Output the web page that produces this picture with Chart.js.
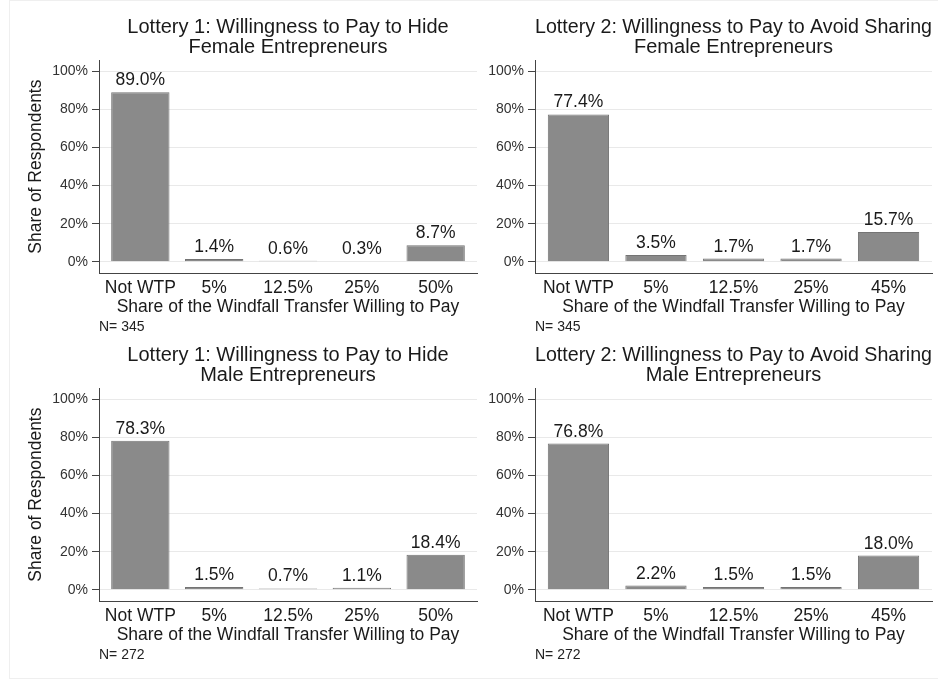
<!DOCTYPE html>
<html lang="en">
<head>
  <meta charset="UTF-8">
  <title>Willingness to Pay</title>
  <style>
    body {
      margin: 0;
      background: #fff;
    }
    #frame {
      position: relative;
      width: 938px;
      height: 681px;
      overflow: hidden;
    }
    #border {
      position: absolute;
      left: 9px;
      top: 0;
      width: 940px;
      height: 677px;
      border: 1px solid #efefef;
    }
    canvas {
      position: absolute;
    }
  </style>
</head>
<body>
  <div id="frame">
    <div id="border"></div>
    <canvas id="femaleL1" width="480" height="336" style="left:0;top:0"></canvas>
    <canvas id="femaleL2" width="468" height="336" style="left:470px;top:0"></canvas>
    <canvas id="maleL1" width="480" height="336" style="left:0;top:328px"></canvas>
    <canvas id="maleL2" width="468" height="336" style="left:470px;top:328px"></canvas>
  </div>
  <script src="https://cdn.jsdelivr.net/npm/chart.js@4.4.9/dist/chart.umd.min.js"></script>
  <script>
    // categories
    const lottery1Labels = ['Not WTP', '5%', '12.5%', '25%', '50%']
    const lottery2Labels = ['Not WTP', '5%', '12.5%', '25%', '45%']

    // share of respondents (%)
    const femaleLottery1 = [89.0, 1.4, 0.6, 0.3, 8.7]
    const femaleLottery2 = [77.4, 3.5, 1.7, 1.7, 15.7]
    const maleLottery1 = [78.3, 1.5, 0.7, 1.1, 18.4]
    const maleLottery2 = [76.8, 2.2, 1.5, 1.5, 18.0]

    const yTicks = [0, 20, 40, 60, 80, 100]
    const femaleN = 345
    const maleN = 272

    const lottery1Title = 'Lottery 1: Willingness to Pay to Hide'
    const lottery2Title = 'Lottery 2: Willingness to Pay to Avoid Sharing'

    Chart.defaults.font.family = "'Liberation Sans', Arial, sans-serif"
    Chart.defaults.color = '#222'

    const axisColor = '#444'

    // prints the value above each bar
    const barValues = {
      id: 'barValues',
      afterDatasetsDraw(chart) {
        const ctx = chart.ctx
        const meta = chart.getDatasetMeta(0)
        const values = chart.data.datasets[0].data
        ctx.save()
        ctx.font = "17.5px 'Liberation Sans', Arial, sans-serif"
        ctx.fillStyle = '#1a1a1a'
        ctx.textAlign = 'center'
        ctx.textBaseline = 'alphabetic'
        meta.data.forEach((bar, i) => {
          ctx.fillText(values[i].y.toFixed(1) + '%', bar.x, bar.y - 7)
        })
        ctx.restore()
      }
    }

    function makePanel(id, labels, values, title, n, leftSide) {
      new Chart(document.getElementById(id), {
        type: 'bar',
        data: {
          datasets: [{
            data: values.map((v, i) => ({ x: i, y: v })),
            backgroundColor: '#8a8a8a',
            borderColor: '#747474',
            borderWidth: 1,
            barPercentage: 0.79,
            categoryPercentage: 1
          }]
        },
        options: {
          responsive: false,
          animation: false,
          layout: {
            padding: { left: 0, right: leftSide ? 3 : 6, top: 0, bottom: 0 }
          },
          plugins: {
            legend: { display: false },
            tooltip: { enabled: false },
            title: {
              display: true,
              text: title,
              fullSize: false,
              color: '#1a1a1a',
              font: { size: 20, weight: 'normal', lineHeight: 1.0 },
              padding: { top: 17, bottom: 3 }
            },
            subtitle: {
              display: true,
              text: 'N= ' + n,
              position: 'bottom',
              align: 'start',
              fullSize: false,
              color: '#222',
              font: { size: 14, lineHeight: 1.2 },
              padding: { top: 3, bottom: 0 }
            }
          },
          scales: {
            x: {
              type: 'linear',
              offset: false,
              min: -0.56,
              max: 4.56,
              grid: { display: false, drawTicks: false },
              border: { display: true, color: axisColor, width: 1 },
              afterBuildTicks(scale) {
                scale.ticks = labels.map((l, i) => ({ value: i }))
              },
              afterFit(scale) {
                scale.height = 43
              },
              ticks: {
                autoSkip: false,
                maxRotation: 0,
                padding: 6,
                color: '#1a1a1a',
                font: { size: 17.5, lineHeight: 1.0 },
                callback: value => labels[value]
              },
              title: {
                display: true,
                text: 'Share of the Windfall Transfer Willing to Pay',
                color: '#1a1a1a',
                font: { size: 17.5, lineHeight: 1.0 },
                padding: { top: 0, bottom: 0 }
              }
            },
            y: {
              min: -6,
              max: 106,
              afterBuildTicks(scale) {
                scale.ticks = yTicks.map(v => ({ value: v }))
              },
              afterFit(scale) {
                scale.width = leftSide ? 99 : 65
              },
              grid: {
                color: '#e9e9e9',
                tickColor: axisColor,
                tickLength: 7
              },
              border: { display: true, color: axisColor, width: 1 },
              ticks: {
                padding: 4,
                color: '#333',
                font: { size: 14 },
                callback: v => v + '%'
              },
              title: {
                display: leftSide,
                text: 'Share of Respondents',
                color: '#1a1a1a',
                font: { size: 17.5, lineHeight: 1.0 },
                padding: { top: 27, bottom: 0 }
              }
            }
          }
        },
        plugins: [barValues]
      })
    }

    makePanel('femaleL1', lottery1Labels, femaleLottery1, [lottery1Title, 'Female Entrepreneurs'], femaleN, true)
    makePanel('femaleL2', lottery2Labels, femaleLottery2, [lottery2Title, 'Female Entrepreneurs'], femaleN, false)
    makePanel('maleL1', lottery1Labels, maleLottery1, [lottery1Title, 'Male Entrepreneurs'], maleN, true)
    makePanel('maleL2', lottery2Labels, maleLottery2, [lottery2Title, 'Male Entrepreneurs'], maleN, false)
  </script>
</body>
</html>
